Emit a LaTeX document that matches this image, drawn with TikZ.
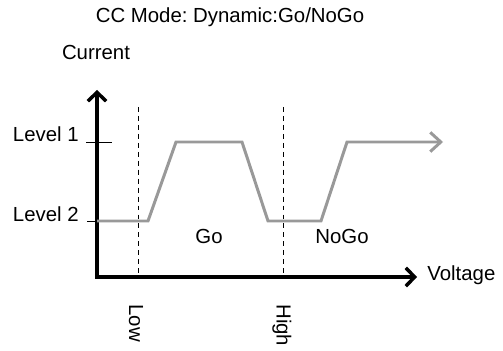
\documentclass[tikz,border=0pt]{standalone}
\usepackage{fontspec}
\setmainfont{Liberation Sans}
\usetikzlibrary{arrows.meta, positioning}
\definecolor{curvegray}{gray}{0.6}
\frenchspacing
\tikzset{
    plot/.style={font=\fontsize{11.6}{14}\selectfont},
    plot axis/.style={line width=2pt, -{Straight Barb[length=5pt, width=10.5pt, line width=2pt]}},
    plot curve/.style={line width=1.7pt, curvegray, line join=miter,
        -{Straight Barb[length=6pt, width=11pt, line width=1.7pt]}},
    plot tick/.style={line width=0.5pt},
    plot limit/.style={line width=0.5pt, dash pattern=on 2.8pt off 2.3pt},
    plot label/.style={inner sep=0pt},
}
\begin{document}
\begin{tikzpicture}[
        plot, x=0.02cm, y=-0.02cm,
        level label/.style={plot label, anchor=base east},
        limit label/.style={plot label, rotate=-90, anchor=west}
    ]
        \useasboundingbox (0,0) rectangle (503,351);

        % axes
        \coordinate (origin) at (97,277);
        \coordinate (ytop) at (97,90);
        \coordinate (xend) at (417,277);
        \draw[plot axis] (origin) -- (ytop);
        \draw[plot axis] ([xshift=-1pt]origin) -- (xend);

        \node[plot label] (title) at (230,17) {CC Mode: Dynamic:Go/NoGo};
        \node[plot label] (ylabel) at (96,52) {Current};
        \node[plot label, anchor=west] (xlabel) at (427,275) {Voltage};

        % levels
        \coordinate (lvl1) at (86,142);
        \coordinate (lvl1r) at (112,142);
        \coordinate (lvl2) at (87,221);
        \node[level label] (l1) at (79,142) {Level 1};
        \node[level label] (l2) at (79,221) {Level 2};
        \draw[plot tick] (lvl1) -- (lvl1r);
        \draw[plot tick] (lvl2) -- (lvl2 -| origin);

        % low / high limits
        \coordinate (lowtop) at (138,107);
        \coordinate (hightop) at (283,107);
        \draw[plot limit] (lowtop) -- (lowtop |- origin);
        \draw[plot limit] (hightop) -- (hightop |- origin);
        \node[limit label] (low) at (136,304) {Low};
        \node[limit label] (high) at (282,304) {High};

        % dynamic current
        \draw[plot curve] (lvl2 -| origin) -- (148,221) -- (176,142) -- (242,142)
            -- (268,221) -- (321,221) -- (347,142) -- (443,142);

        \node[plot label] (go) at (209,236) {Go};
        \node[plot label] (nogo) at (342,236) {NoGo};
    \end{tikzpicture}
\end{document}
